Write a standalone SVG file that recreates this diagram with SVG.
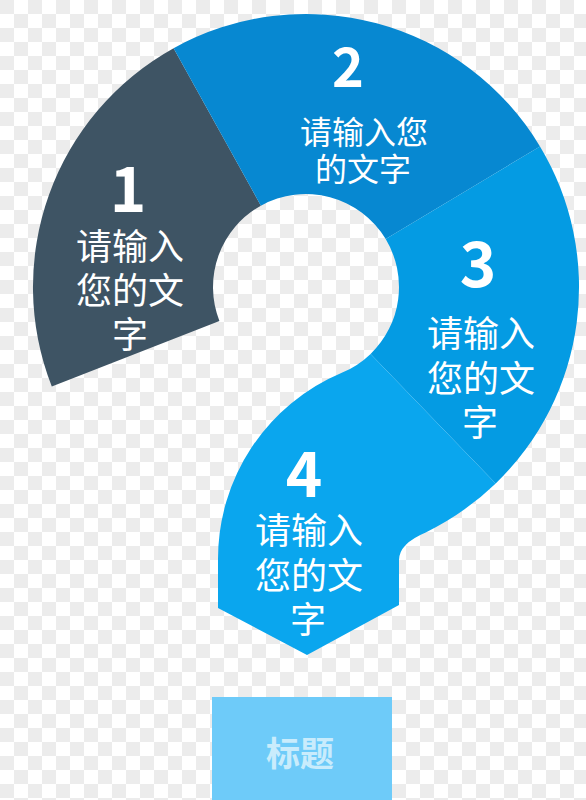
<svg xmlns="http://www.w3.org/2000/svg" width="586" height="800" viewBox="0 0 586 800">
  <defs>
    <pattern id="checker" width="28" height="28" patternUnits="userSpaceOnUse">
      <rect width="28" height="28" fill="#ffffff"/>
      <rect width="14" height="14" fill="#ececec"/>
      <rect x="14" y="14" width="14" height="14" fill="#ececec"/>
    </pattern>
  </defs>
  <style>
    .num { font-family: "Noto Sans CJK SC", "DejaVu Sans", sans-serif; font-weight: bold; fill: #ffffff; text-anchor: middle; }
    .lbl { font-family: "Noto Sans CJK SC", "Noto Sans", sans-serif; fill: #ffffff; text-anchor: middle; }
  </style>
  <rect id="background" width="586" height="800" fill="url(#checker)"/>

  <g id="seg1">
    <path d="M 51.8 386.6 A 273 273 0 0 1 173.6 48.2 L 260.9 205.7 A 93 93 0 0 0 219.4 320.9 Z" fill="#3e5464"/>
    <text class="num" x="128" y="212" font-size="62">1</text>
    <text class="lbl" font-size="36"><tspan x="130" y="260">请输入</tspan><tspan x="130" y="304">您的文</tspan><tspan x="130" y="348">字</tspan></text>
  </g>

  <g id="seg2">
    <path d="M 173.6 48.2 A 273 273 0 0 1 540 146.4 L 385.7 239.1 A 93 93 0 0 0 260.9 205.7 Z" fill="#0788d1"/>
    <text class="num" x="348" y="87" font-size="54">2</text>
    <text class="lbl" font-size="32"><tspan x="364" y="144">请输入您</tspan><tspan x="363" y="181">的文字</tspan></text>
  </g>

  <g id="seg3">
    <path d="M 540 146.4 A 273 273 0 0 1 495.7 483.4 L 370.6 353.9 A 93 93 0 0 0 385.7 239.1 Z" fill="#049be3"/>
    <text class="num" x="478" y="287" font-size="62">3</text>
    <text class="lbl" font-size="36"><tspan x="481" y="347">请输入</tspan><tspan x="481" y="392">您的文</tspan><tspan x="480" y="436">字</tspan></text>
  </g>

  <g id="seg4">
    <path d="M 495.7 483.4 A 273 273 0 0 1 425.7 532.4 Q 399 543.6 399 560 L 399 605 L 307 655 L 218 608 L 218 560 A 202 202 0 0 1 341.8 372.8 A 93 93 0 0 0 370.6 353.9 Z" fill="#0aa6ee"/>
    <text class="num" x="304" y="497" font-size="62">4</text>
    <text class="lbl" font-size="36"><tspan x="309" y="544">请输入</tspan><tspan x="309" y="589">您的文</tspan><tspan x="308" y="633">字</tspan></text>
  </g>

  <g id="connectors"></g>

  <g id="title">
    <rect x="212" y="697" width="180" height="103" fill="#6ecbf9"/>
    <text x="300" y="766" font-size="34" font-weight="bold" fill="#c9ecfc" text-anchor="middle" font-family="Noto Sans CJK SC, Noto Sans, sans-serif">标题</text>
  </g>
</svg>
